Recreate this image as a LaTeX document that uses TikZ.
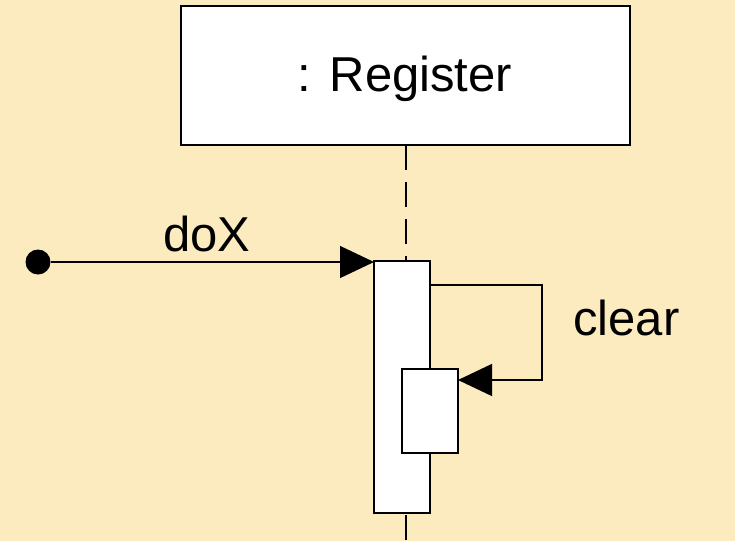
\documentclass[tikz,border=0pt]{standalone}
\usepackage{fontspec}
\setmainfont{Liberation Sans}
\usetikzlibrary{arrows.meta}
\definecolor{bg}{RGB}{253,235,192}
\begin{document}
\begin{tikzpicture}[x=1pt,y=-1pt,
 box/.style={draw,fill=white,line width=1.3pt,inner sep=0pt,outer sep=0pt},
 msg/.style={line width=1.3pt,-{Triangle[length=34pt,width=32pt]}},
 lifeline/.style={line width=2pt,dash pattern=on 25pt off 12pt},
 lbl/.style={font=\fontsize{49}{55}\selectfont,inner sep=0pt,anchor=base west}]
\fill[bg] (0,0) rectangle (735,541);
\useasboundingbox (0,0) rectangle (735,541);
\node[box,minimum width=449pt,minimum height=139pt] (reg) at (405.5,75.5) {};
\node[lbl,anchor=base] (regt) at (405,91) {: Register};
\coordinate (lend) at (405.5,545);
\draw[lifeline] (reg.south) -- (lend);
\node[box,minimum width=56pt,minimum height=252pt] (act1) at (402,387) {};
\node[box,minimum width=56pt,minimum height=84pt] (act2) at (430,411) {};
\node[circle,fill=black,inner sep=0pt,minimum size=25pt] (start) at (38,262) {};
\draw[msg] (start) -- (start -| act1.west);
\node[lbl] (doX) at (163,251) {doX};
\draw[msg] ([yshift=-24pt]act1.north east) -- ++(112,0) |- ([yshift=-11pt]act2.north east);
\node[lbl] (clear) at (573,335) {clear};
\end{tikzpicture}
\end{document}
